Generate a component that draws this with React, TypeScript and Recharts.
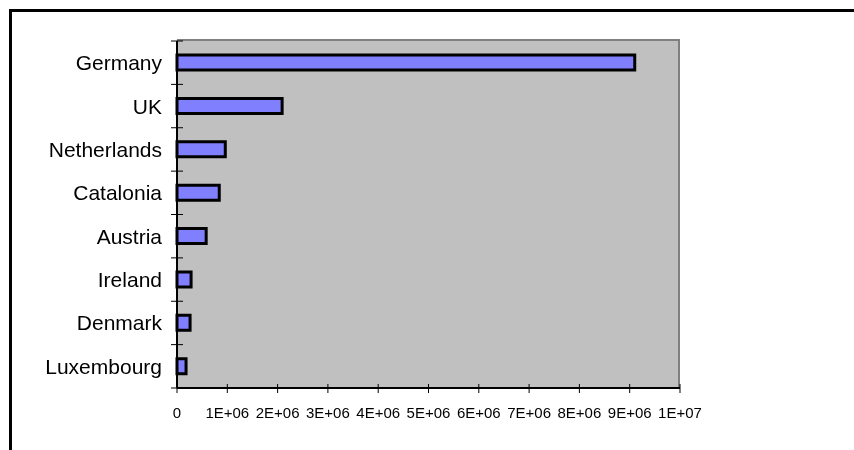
import React from 'react';
import { BarChart, Bar, XAxis, YAxis } from 'recharts';

const countries = ['Germany', 'UK', 'Netherlands', 'Catalonia', 'Austria', 'Ireland', 'Denmark', 'Luxembourg'];
const amounts = [9100000, 2090000, 960000, 840000, 580000, 280000, 260000, 180000];
const xTicks = [0, 1e6, 2e6, 3e6, 4e6, 5e6, 6e6, 7e6, 8e6, 9e6, 1e7];

const data = countries.map((name, i) => ({ name, value: amounts[i] }));

// plot box inside the svg
const W = 838;
const H = 434;
const PLOT_LEFT = 169;
const PLOT_TOP = 33;
const PLOT_RIGHT = 672;
const PLOT_BOTTOM = 380;
const BAND = (PLOT_BOTTOM - PLOT_TOP) / countries.length;
const FONT = '"Liberation Sans", Arial, sans-serif';

// 1000000 -> "1E+06"
const sci = (v: number) => {
  if (v === 0) return '0';
  const [m, e] = v.toExponential(0).split('e');
  const exp = parseInt(e, 10);
  return `${m}E${exp < 0 ? '-' : '+'}${String(Math.abs(exp)).padStart(2, '0')}`;
};

const CountryTick = (props: any) => {
  const { y, payload, index } = props;
  const top = y - BAND / 2;
  return (
    <g>
      <line x1={PLOT_LEFT - 6} x2={PLOT_LEFT + 6} y1={top} y2={top} stroke="#000" strokeWidth={1} />
      {index === countries.length - 1 && (
        <line x1={PLOT_LEFT - 6} x2={PLOT_LEFT + 6} y1={y + BAND / 2} y2={y + BAND / 2} stroke="#000" strokeWidth={1} />
      )}
      <text x={PLOT_LEFT - 15} y={y} dy="0.355em" textAnchor="end" fontSize={21} fill="#000" fontFamily={FONT}>
        {payload.value}
      </text>
    </g>
  );
};

const ValueTick = (props: any) => {
  const { x, payload } = props;
  return (
    <g>
      <line x1={x} x2={x} y1={PLOT_BOTTOM - 4} y2={PLOT_BOTTOM + 5} stroke="#000" strokeWidth={1} />
      <text x={x} y={PLOT_BOTTOM + 25} dy="0.355em" textAnchor="middle" fontSize={15} fill="#000" fontFamily={FONT}>
        {sci(payload.value)}
      </text>
    </g>
  );
};

export default function App() {
  return (
    <div style={{ position: 'relative', width: W, height: H }}>
      <div
        style={{
          position: 'fixed',
          left: 9,
          top: 9,
          right: 0,
          bottom: 0,
          borderTop: '3px solid #000',
          borderLeft: '3px solid #000',
        }}
      />
      {/* plot background with grey top/right edge */}
      <div
        style={{
          position: 'absolute',
          left: PLOT_LEFT,
          top: PLOT_TOP - 2,
          width: PLOT_RIGHT - PLOT_LEFT,
          height: PLOT_BOTTOM - PLOT_TOP + 2,
          boxSizing: 'border-box',
          background: '#c0c0c0',
          borderTop: '2px solid #808080',
          borderRight: '2px solid #808080',
        }}
      />
      <BarChart
        width={W}
        height={H}
        data={data}
        layout="vertical"
        margin={{ top: PLOT_TOP, left: 0, right: W - PLOT_RIGHT, bottom: H - PLOT_BOTTOM - 30 }}
        style={{ position: 'relative' }}
      >
        <XAxis
          type="number"
          domain={[0, 1e7]}
          ticks={xTicks}
          interval={0}
          height={30}
          axisLine={{ stroke: '#000', strokeWidth: 2 }}
          tickLine={false}
          tick={<ValueTick />}
        />
        <YAxis
          type="category"
          dataKey="name"
          width={PLOT_LEFT}
          interval={0}
          axisLine={{ stroke: '#000', strokeWidth: 2 }}
          tickLine={false}
          tick={<CountryTick />}
        />
        <Bar dataKey="value" fill="#8080ff" stroke="#000" strokeWidth={3} barSize={15} isAnimationActive={false} />
      </BarChart>
    </div>
  );
}
